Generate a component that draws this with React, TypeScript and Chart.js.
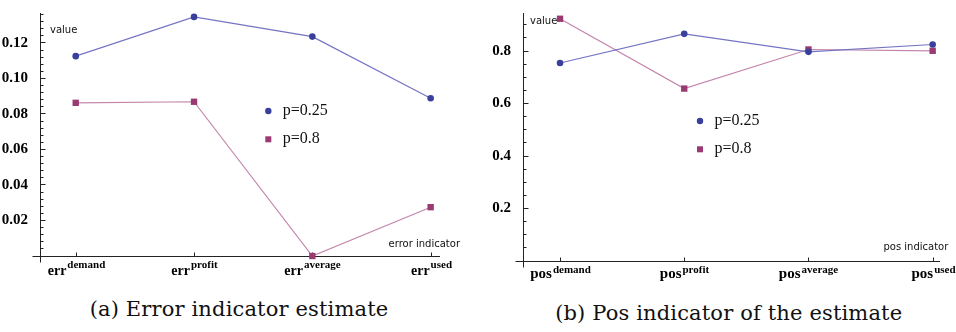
import React, { useEffect, useRef } from 'react';
import { Chart, registerables } from 'chart.js';

Chart.register(...registerables);

// ---- data ----
const categoryKeys = ['demand', 'profit', 'average', 'used'];
const seriesLabels = ['p=0.25', 'p=0.8'];
const errP025 = [0.1126, 0.1347, 0.1236, 0.0889];
const errP08 = [0.0863, 0.0869, 0.0, 0.0275];
const posP025 = [0.7546, 0.8656, 0.797, 0.825];
const posP08 = [0.923, 0.657, 0.806, 0.801];
const errTicks = [0.02, 0.04, 0.06, 0.08, 0.1, 0.12];
const posTicks = [0.2, 0.4, 0.6, 0.8];

const BLUE_PT = '#3b3f9c';
const BLUE_LN = '#7474c4';
const PURP_PT = '#9a3a72';
const PURP_LN = '#c386ab';

type PanelCfg = {
  id: string;
  prefix: string;
  axisTitle: string;
  s1: number[];
  s2: number[];
  ticks: number[];
  decimals: number;
  minorStep: number;
  yMax: number;
  xMin: number;
  xMax: number;
  yAxisW: number;
  pad: { left: number; right: number; top: number; bottom: number };
  baseDy: number;
  supDy: number;
  baseSize: number;
  valuePos: [number, number];
  titlePos: [number, number];
  legendPos: [number, number];
};

function buildPlugin(cfg: PanelCfg) {
  return {
    id: 'axes_' + cfg.id,
    beforeDatasetsDraw(chart: any) {
      const { ctx, chartArea } = chart;
      const xs = chart.scales.x;
      const ys = chart.scales.y;
      const ax = Math.round(chartArea.left) + 0.5;
      const y0 = Math.floor(ys.getPixelForValue(0)) + 0.5;
      ctx.save();
      ctx.strokeStyle = '#222';
      ctx.lineWidth = 1;
      // y axis
      ctx.beginPath();
      ctx.moveTo(ax, chartArea.top);
      ctx.lineTo(ax, y0 + 6);
      ctx.stroke();
      // x axis
      ctx.beginPath();
      ctx.moveTo(ax - 8, y0);
      ctx.lineTo(chartArea.right, y0);
      ctx.stroke();
      // y minor ticks
      const nMinor = Math.floor(cfg.yMax / cfg.minorStep + 1e-6);
      for (let i = 1; i <= nMinor; i++) {
        const v = i * cfg.minorStep;
        const py = Math.floor(ys.getPixelForValue(v)) + 0.5;
        const isMajor = cfg.ticks.some((t) => Math.abs(t - v) < 1e-6);
        ctx.beginPath();
        ctx.moveTo(ax, py);
        ctx.lineTo(ax + (isMajor ? 5 : 3), py);
        ctx.stroke();
      }
      // x ticks + labels
      const baseFont = `bold ${cfg.baseSize}px "Liberation Serif"`;
      const supFont = 'bold 11px "Liberation Serif"';
      categoryKeys.forEach((k, i) => {
        const px = Math.round(xs.getPixelForValue(i + 1)) + 0.5;
        ctx.beginPath();
        ctx.moveTo(px, y0);
        ctx.lineTo(px, y0 - 4);
        ctx.stroke();
        ctx.fillStyle = '#000';
        ctx.font = baseFont;
        const wb = ctx.measureText(cfg.prefix).width;
        ctx.font = supFont;
        const ws = ctx.measureText(k).width;
        const start = px - (wb + ws + 1) / 2;
        ctx.textAlign = 'left';
        ctx.textBaseline = 'alphabetic';
        ctx.font = baseFont;
        ctx.fillText(cfg.prefix, start, y0 + cfg.baseDy);
        ctx.font = supFont;
        ctx.fillText(k, start + wb + 1, y0 + cfg.supDy);
      });
      // axis titles
      ctx.font = '10px "DejaVu Sans"';
      ctx.fillStyle = '#111';
      ctx.textBaseline = 'middle';
      ctx.textAlign = 'left';
      ctx.fillText('value', cfg.valuePos[0], cfg.valuePos[1]);
      ctx.textAlign = 'right';
      ctx.fillText(cfg.axisTitle, cfg.titlePos[0], cfg.titlePos[1]);
      // legend
      const [lx, ly] = cfg.legendPos;
      ctx.fillStyle = BLUE_PT;
      ctx.beginPath();
      ctx.arc(lx, ly, 3.2, 0, Math.PI * 2);
      ctx.fill();
      ctx.fillStyle = PURP_PT;
      ctx.fillRect(lx - 3, ly + 28.3 - 3, 6, 6);
      ctx.fillStyle = '#111';
      ctx.textAlign = 'left';
      ctx.textBaseline = 'alphabetic';
      ctx.font = '16px "Liberation Serif"';
      ctx.fillText(seriesLabels[0], lx + 14.5, ly + 4);
      ctx.fillText(seriesLabels[1], lx + 14.5, ly + 28.3 + 3.5);
      ctx.restore();
    },
  };
}

function Panel({ cfg, width, height, left }: { cfg: PanelCfg; width: number; height: number; left: number }) {
  const ref = useRef<HTMLCanvasElement | null>(null);
  useEffect(() => {
    if (!ref.current) return;
    const chart = new Chart(ref.current, {
      type: 'line',
      data: {
        datasets: [
          {
            label: seriesLabels[0],
            data: cfg.s1.map((v, i) => ({ x: i + 1, y: v })),
            borderColor: BLUE_LN,
            borderWidth: 1.2,
            pointStyle: 'circle',
            pointRadius: 3.3,
            pointBackgroundColor: BLUE_PT,
            pointBorderWidth: 0,
            clip: false,
            tension: 0,
          },
          {
            label: seriesLabels[1],
            data: cfg.s2.map((v, i) => ({ x: i + 1, y: v })),
            borderColor: PURP_LN,
            borderWidth: 1.2,
            pointStyle: 'rect',
            pointRadius: 4.5,
            pointBackgroundColor: PURP_PT,
            pointBorderWidth: 0,
            clip: false,
            tension: 0,
          },
        ],
      },
      options: {
        animation: false,
        responsive: false,
        maintainAspectRatio: false,
        layout: { padding: cfg.pad },
        plugins: { legend: { display: false }, tooltip: { enabled: false } },
        scales: {
          x: { type: 'linear', min: cfg.xMin, max: cfg.xMax, display: false },
          y: {
            type: 'linear',
            min: 0,
            max: cfg.yMax,
            grid: { display: false },
            border: { display: false },
            afterBuildTicks: (scale: any) => {
              scale.ticks = cfg.ticks.map((v) => ({ value: v }));
            },
            afterFit: (scale: any) => {
              scale.width = cfg.yAxisW;
            },
            ticks: {
              autoSkip: false,
              padding: 4,
              color: '#000',
              font: { family: '"Liberation Serif"', size: 15, weight: 'bold' },
              callback: (v: any) => Number(v).toFixed(cfg.decimals),
            },
          },
        },
      },
      plugins: [buildPlugin(cfg)],
    } as any);
    return () => chart.destroy();
  }, []);
  return (
    <canvas
      ref={ref}
      width={width}
      height={height}
      style={{ position: 'absolute', left, top: 0, width, height }}
    />
  );
}

const errCfg: PanelCfg = {
  id: 'err',
  prefix: 'err',
  axisTitle: 'error indicator',
  s1: errP025,
  s2: errP08,
  ticks: errTicks,
  decimals: 2,
  minorStep: 0.004,
  yMax: 0.1369,
  xMin: 0.698,
  xMax: 4.079,
  yAxisW: 40,
  pad: { left: 0, right: 36, top: 11, bottom: 29 },
  baseDy: 18,
  supDy: 11.5,
  baseSize: 14,
  valuePos: [50, 30.5],
  titlePos: [460, 244],
  legendPos: [268.3, 111],
};

const posCfg: PanelCfg = {
  id: 'pos',
  prefix: 'pos',
  axisTitle: 'pos indicator',
  s1: posP025,
  s2: posP08,
  ticks: posTicks,
  decimals: 1,
  minorStep: 0.05,
  yMax: 0.945,
  xMin: 0.702,
  xMax: 4.059,
  yAxisW: 47,
  pad: { left: 0, right: 16, top: 3, bottom: 29 },
  baseDy: 16.5,
  supDy: 11,
  baseSize: 15,
  valuePos: [54, 21.7],
  titlePos: [472.3, 247.7],
  legendPos: [224, 121],
};

export default function App() {
  const capStyle: React.CSSProperties = {
    position: 'absolute',
    width: 460,
    textAlign: 'center',
    fontFamily: '"DejaVu Serif"',
    fontSize: 21,
    lineHeight: '24px',
    letterSpacing: '0.15px',
    color: '#111',
    whiteSpace: 'nowrap',
  };
  return (
    <div style={{ position: 'absolute', left: 0, top: 0, width: 956, height: 332, background: '#fff', overflow: 'hidden' }}>
      <Panel cfg={errCfg} width={476} height={285} left={0} />
      <Panel cfg={posCfg} width={480} height={290} left={476} />
      <div style={{ ...capStyle, left: 239 - 230, top: 297 }}>(a) Error indicator estimate</div>
      <div style={{ ...capStyle, left: 728.7 - 230, top: 301 }}>(b) Pos indicator of the estimate</div>
    </div>
  );
}
